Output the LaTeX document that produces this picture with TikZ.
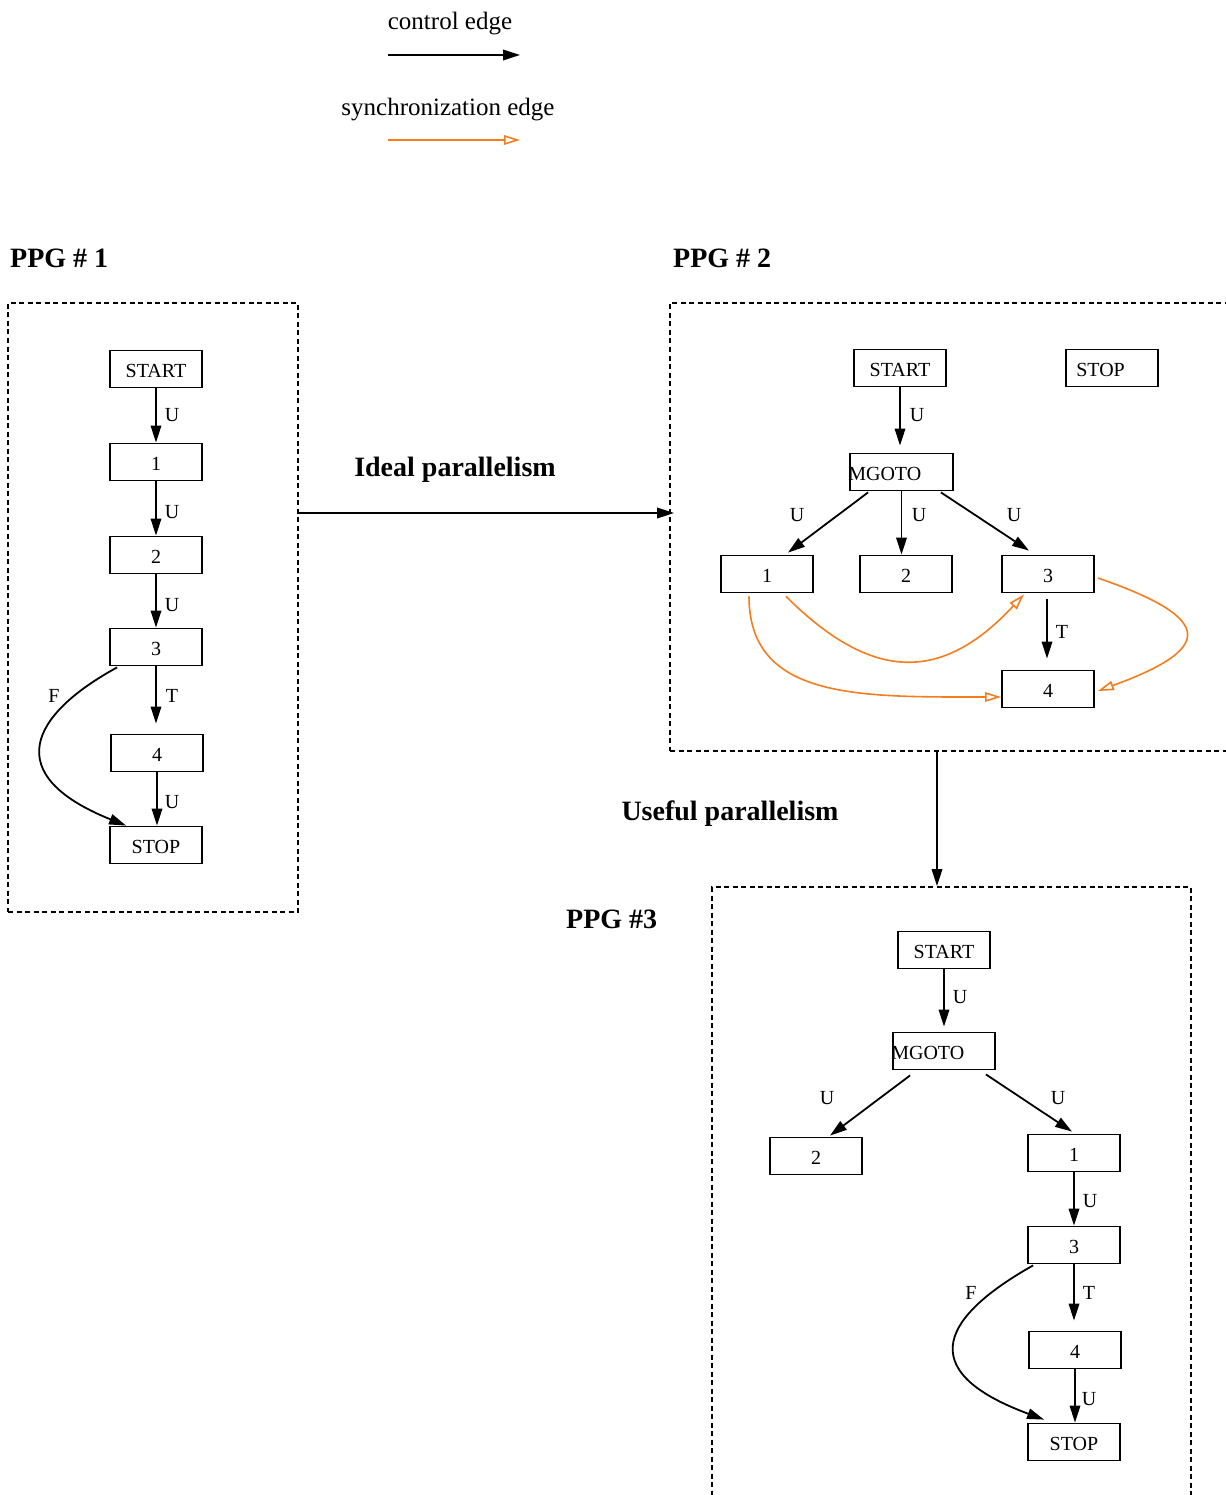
\documentclass[tikz,border=0pt]{standalone}
\usepackage{fontspec}
\setmainfont{Liberation Serif}
\usetikzlibrary{arrows.meta,calc}
\definecolor{syncorange}{RGB}{245,125,30}
\tikzset{
  box/.style={draw, line width=1.8pt, minimum width=92pt, minimum height=37pt,
    inner sep=0pt, text height=17pt, text depth=0pt, font=\fontsize{20}{24}\selectfont},
  lbl/.style={inner sep=0pt, yshift=-2pt, font=\fontsize{20}{24}\selectfont},
  legendtxt/.style={inner sep=0pt, yshift=-2.5pt, font=\fontsize{25}{30}\selectfont},
  ttl/.style={inner sep=0pt, yshift=-2pt, font=\fontsize{28}{34}\selectfont\bfseries},
  ctrl/.style={line width=1.8pt, -{Triangle[length=17pt,width=10.5pt]}},
  sync/.style={draw=syncorange, line width=1.6pt, -{Triangle[open,length=16pt,width=9.5pt]}},
  frame/.style={draw, dash pattern=on 5pt off 3.5pt, line width=1.8pt, inner sep=0pt}
}
\begin{document}
\begin{tikzpicture}[x=1pt,y=-1pt]
\useasboundingbox (0,0) rectangle (1225,1495);

% ---- legend ----
\node[legendtxt] (lgc) at (450,21) {control edge};
\coordinate (lgca) at (388,55);
\coordinate (lgcb) at (520,55);
\draw[ctrl] (lgca) -- (lgcb);
\node[legendtxt] (lgs) at (448,107) {synchronization edge};
\coordinate (lgsa) at (388,140);
\coordinate (lgsb) at (520,140);
\draw[sync] (lgsa) -- (lgsb);

% ---- titles ----
\node[ttl, anchor=west] (t1) at (10,256) {PPG \# 1};
\node[ttl, anchor=west] (t2) at (673,256) {PPG \# 2};
\node[ttl, anchor=west] (t3) at (566,917) {PPG \#3};
\node[ttl] (tideal) at (455,468) {Ideal parallelism};
\node[ttl] (tuseful) at (730,812) {Useful parallelism};

% ---- frames ----
\node[frame, minimum width=290pt, minimum height=609pt] (box1) at (153,607.5) {};
\node[frame, minimum width=570pt, minimum height=448pt] (box2) at (955,527) {};
\node[frame, minimum width=479pt, minimum height=640pt] (box3) at (951.5,1207) {};

% transformations between the graphs
\coordinate (ipy) at (0,513);
\draw[ctrl, shorten >=-5pt] (box1.east |- ipy) -- (box2.west |- ipy);
\coordinate (upx) at (937,0);
\draw[ctrl] (box2.south -| upx) -- (box3.north -| upx);

% ---- PPG 1 ----
\node[box] (a0) at (156,369) {START};
\node[box] (a1) at (156,462) {1};
\node[box] (a2) at (156,555) {2};
\node[box] (a3) at (156,647) {3};
\node[box] (a4) at (157,753) {4};
\node[box] (a5) at (156,845) {STOP};
\draw[ctrl] (a0) -- (a1);
\draw[ctrl] (a1) -- (a2);
\draw[ctrl] (a2) -- (a3);
\draw[ctrl, shorten >=10pt] (a3) -- (a3.south |- a4.north);
\draw[ctrl] (a4) -- (a4.south |- a5.north);
\draw[ctrl] ($(a3.south west)+(8,1)$) .. controls (30,715) and (0,775) .. ($(a5.north west)+(17,0)$);
\node[lbl] (la1) at (172,413) {U};
\node[lbl] (la2) at (172,510) {U};
\node[lbl] (la3) at (172,603) {U};
\node[lbl] (la4) at (172,694) {T};
\node[lbl] (la5) at (172,800) {U};
\node[lbl] (la6) at (54,694) {F};

% ---- PPG 2 ----
\node[box] (b0) at (900,368) {START};
\node[box] (bs) at (1112,368) {};
\node[lbl, anchor=west] (bst) at ($(bs.west)+(11,0)$) {STOP};
\node[box, minimum width=103pt] (bm) at (901.5,472) {};
\node[lbl, anchor=west] (bmt) at ($(bm.west)+(-1,0)$) {MGOTO};
\node[box] (b1) at (767,574) {1};
\node[box] (b2) at (906,574) {2};
\node[box] (b3) at (1048,574) {3};
\node[box] (b4) at (1048,689) {4};
\draw[ctrl, shorten >=7pt] (b0) -- (b0.south |- bm.north);
\draw[ctrl] ($(bm.south west)+(19,1)$) -- ($(b1.north)+(21,-2)$);
\draw[ctrl] (bm.south) -- (bm.south |- b2.north);
\draw[ctrl] ($(bm.south east)+(-13,1)$) -- ($(b3.north)+(-19,-4)$);
\draw[ctrl, shorten <=6pt, shorten >=11pt] ($(b3.south)+(-1,0)$) -- ($(b4.north)+(-1,0)$);
\node[lbl] (lb1) at (917,413) {U};
\node[lbl] (lb2) at (797,513) {U};
\node[lbl] (lb3) at (919,513) {U};
\node[lbl] (lb4) at (1014,513) {U};
\node[lbl] (lb5) at (1062,630) {T};
% synchronization edges
\draw[sync] ($(b1.south)+(-18,3)$) .. controls (749,700) and (860,697) .. ($(b4.west)+(0,8)$);
\draw[sync] ($(b1.south)+(19,3)$) .. controls (870,680) and (940,685) .. ($(b3.south)+(-24,1)$);
\draw[sync] ($(b3.east)+(3,4)$) .. controls (1220,620) and (1210,650) .. ($(b4.east)+(3,2)$);

% ---- PPG 3 ----
\node[box] (c0) at (944,950) {START};
\node[box, minimum width=102pt] (cm) at (944,1051) {};
\node[lbl, anchor=west] (cmt) at ($(cm.west)+(-1,0)$) {MGOTO};
\node[box] (c2) at (816,1156) {2};
\node[box] (c1) at (1074,1153) {1};
\node[box] (c3) at (1074,1245) {3};
\node[box] (c4) at (1075,1350) {4};
\node[box] (c5) at (1074,1442) {STOP};
\draw[ctrl, shorten >=5pt] (c0) -- (c0.south |- cm.north);
\draw[ctrl] ($(cm.south west)+(18,5)$) -- ($(c2.north)+(14,-1)$);
\draw[ctrl] ($(cm.south east)+(-10,4)$) -- ($(c1.north)+(-2,-2)$);
\draw[ctrl] (c1) -- (c3);
\draw[ctrl, shorten >=10pt] (c3) -- (c3.south |- c4.north);
\draw[ctrl] (c4) -- (c4.south |- c5.north);
\draw[ctrl] ($(c3.south west)+(6,1)$) .. controls (945,1315) and (910,1370) .. ($(c5.north west)+(17,-3)$);
\node[lbl] (lc1) at (960,995) {U};
\node[lbl] (lc2) at (827,1096) {U};
\node[lbl] (lc3) at (1058,1096) {U};
\node[lbl] (lc4) at (1090,1199) {U};
\node[lbl] (lc5) at (1089,1291) {T};
\node[lbl] (lc6) at (1089,1397) {U};
\node[lbl] (lc7) at (971,1291) {F};
\end{tikzpicture}
\end{document}
